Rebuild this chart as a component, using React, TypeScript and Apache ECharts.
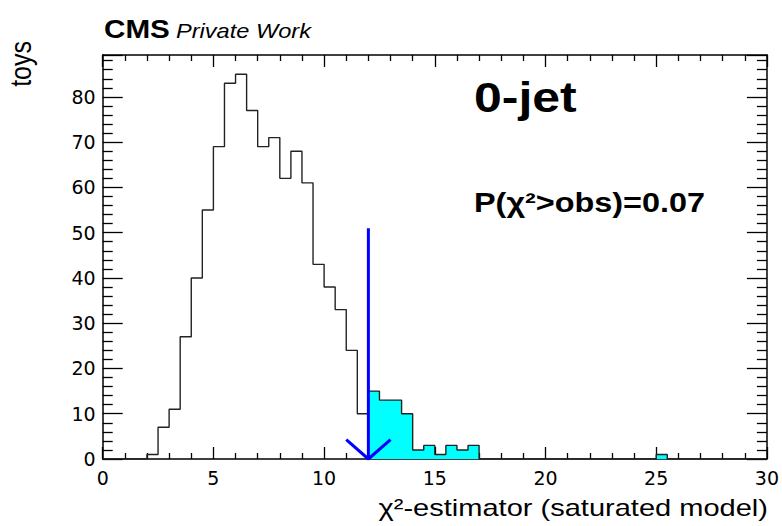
import React, { useEffect, useRef } from "react";
import * as echarts from "echarts";

// ---- data ----
const binWidth = 0.5;
const xMin = 0;
const xMax = 30;
// toys per 0.5-wide bin, starting at x = 0
const toyCounts = [
  0, 0, 0, 0, 1, 7, 11, 27, 40, 55, 69, 83, 85, 77, 69, 71, 62, 68, 61, 43,
  38, 33, 24, 10, 15, 13, 13, 10, 2, 3, 1, 3, 2, 3, 0, 0, 0, 0, 0, 0,
  0, 0, 0, 0, 0, 0, 0, 0, 0, 0, 1, 0, 0, 0, 0, 0, 0, 0, 0, 0,
];
const observed = 12; // observed chi2
const arrowTop = 51;
const arrowHeadHalfWidth = 1.0;
const arrowHeadHeight = 4.3;
const yMax = 89.25;
const xTickStep = 5;
const yTickStep = 10;
const channelLabel = "0-jet";
const pValueLabel = "P(χ²>obs)=0.07";
const xTitle = "χ²-estimator (saturated model)";
const yTitle = "toys";

const FONT = "Liberation Sans, Arial, Helvetica, sans-serif";
const TICKFONT = "DejaVu Sans, Liberation Sans, sans-serif";

function outlinePoints(counts: number[], startIdx: number): number[][] {
  const pts: number[][] = [];
  const x0 = xMin + startIdx * binWidth;
  pts.push([x0, 0]);
  for (let i = startIdx; i < counts.length; i++) {
    const l = xMin + i * binWidth;
    pts.push([l, counts[i]]);
    pts.push([l + binWidth, counts[i]]);
  }
  pts.push([xMin + counts.length * binWidth, 0]);
  return pts;
}

export default function App() {
  const ref = useRef<HTMLDivElement>(null);
  useEffect(() => {
    if (!ref.current) return;
    const chart = echarts.init(ref.current, undefined, { renderer: "svg" });
    const obsIdx = Math.round((observed - xMin) / binWidth);
    const axisCommonX = {
      type: "value" as const,
      min: xMin,
      max: xMax,
      interval: xTickStep,
      splitLine: { show: false },
      axisLine: { show: true, onZero: false, lineStyle: { color: "#000", width: 1.5 } },
      axisTick: { show: true, inside: true, length: 12, lineStyle: { color: "#000", width: 1.3 } },
      minorTick: { show: true, splitNumber: 5, length: 6, lineStyle: { color: "#000", width: 1.3 } },
    };
    const axisCommonY = {
      type: "value" as const,
      min: 0,
      max: yMax,
      interval: yTickStep,
      splitLine: { show: false },
      axisLine: { show: true, onZero: false, lineStyle: { color: "#000", width: 1.5 } },
      axisTick: { show: true, inside: true, length: 20, lineStyle: { color: "#000", width: 1.3 } },
      minorTick: { show: true, splitNumber: 5, length: 10, lineStyle: { color: "#000", width: 1.3 } },
    };
    chart.setOption({
      animation: false,
      backgroundColor: "#fff",
      grid: { left: 102.7, right: 13.7, top: 55, bottom: 67, containLabel: false },
      xAxis: [
        {
          ...axisCommonX,
          position: "bottom",
          axisLabel: { show: true, fontSize: 19, color: "#000", fontFamily: TICKFONT, margin: 9 },
        },
        { ...axisCommonX, position: "top", axisLabel: { show: false } },
      ],
      yAxis: [
        {
          ...axisCommonY,
          position: "left",
          axisLabel: {
            show: true,
            fontSize: 19,
            color: "#000",
            fontFamily: TICKFONT,
            margin: 7,
            showMaxLabel: false,
          },
        },
        { ...axisCommonY, position: "right", axisLabel: { show: false } },
      ],
      series: [
        {
          type: "line",
          data: outlinePoints(toyCounts, obsIdx),
          symbol: "none",
          lineStyle: { width: 0 },
          areaStyle: { color: "#00ffff", opacity: 1 },
          z: 1,
        },
        {
          type: "line",
          data: outlinePoints(toyCounts, 0),
          symbol: "none",
          lineStyle: { color: "#222", width: 1.4 },
          z: 2,
        },
        {
          type: "line",
          data: [
            [observed, arrowTop],
            [observed, 0],
          ],
          symbol: "none",
          lineStyle: { color: "#0000ff", width: 3 },
          z: 3,
        },
        {
          type: "line",
          data: [
            [observed - arrowHeadHalfWidth, arrowHeadHeight],
            [observed, 0],
            [observed + arrowHeadHalfWidth, arrowHeadHeight],
          ],
          symbol: "none",
          lineStyle: { color: "#0000ff", width: 3 },
          z: 3,
        },
      ],
      graphic: [
        {
          type: "text",
          x: 104,
          y: 29,
          scaleX: 1.14,
          style: { text: "CMS", font: `bold 26px ${FONT}`, fill: "#000", align: "left", verticalAlign: "middle" },
        },
        {
          type: "text",
          x: 176,
          y: 30.9,
          scaleX: 1.18,
          style: { text: "Private Work", font: `italic 20px ${FONT}`, fill: "#000", align: "left", verticalAlign: "middle" },
        },
        {
          type: "text",
          x: 21,
          y: 41,
          rotation: Math.PI / 2,
          scaleY: 1.18,
          style: {
            text: yTitle,
            font: `25px ${FONT}`,
            fill: "#000",
            align: "right",
            verticalAlign: "middle",
          },
        },
        {
          type: "text",
          x: 474,
          y: 97,
          scaleX: 1.19,
          style: { text: channelLabel, font: `bold 42px ${FONT}`, fill: "#000", align: "left", verticalAlign: "middle" },
        },
        {
          type: "text",
          x: 474,
          y: 202.8,
          scaleX: 1.2,
          style: { text: pValueLabel, font: `bold 27px ${FONT}`, fill: "#000", align: "left", verticalAlign: "middle" },
        },
        {
          type: "text",
          x: 768,
          y: 508,
          scaleX: 1.21,
          style: {
            text: xTitle,
            font: `24px ${FONT}`,
            fill: "#000",
            align: "right",
            verticalAlign: "middle",
          },
        },
      ],
    });
    return () => chart.dispose();
  }, []);
  return (
    <div
      ref={ref}
      style={{ position: "fixed", left: 0, top: 0, width: 782, height: 526 }}
    />
  );
}
